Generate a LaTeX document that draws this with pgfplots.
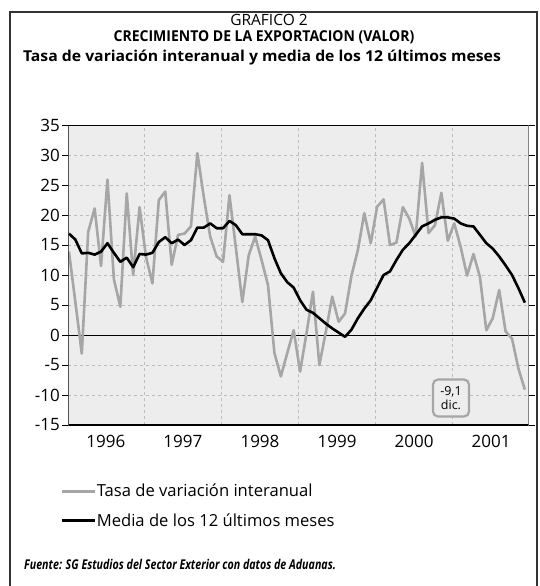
\documentclass[border=0pt]{standalone}
\usepackage{pgfplots}
\pgfplotsset{compat=1.18}
\usepackage{fontspec}
\setmainfont{Open Sans}
\definecolor{bg}{HTML}{EDEDED}
\definecolor{gridc}{HTML}{BDBDBD}
\definecolor{grayline}{HTML}{A6A6A6}
\definecolor{framec}{HTML}{333333}
\begin{document}
\begin{tikzpicture}[x=1pt,y=1pt]
\path (0pt,0pt) rectangle (540pt,-586pt);
\node[anchor=base, inner sep=0pt, font=\fontsize{15.5}{17}\selectfont] at (269pt,-26pt) {GRAFICO 2};
\node[anchor=base, inner sep=0pt, font=\fontsize{15}{17}\selectfont\bfseries] at (264pt,-41.5pt) {\scalebox{0.934}[1]{CRECIMIENTO DE LA EXPORTACION (VALOR)}};
\node[anchor=base, inner sep=0pt, font=\fontsize{15}{17}\selectfont\bfseries] at (262pt,-61.5pt) {\scalebox{1.05}[1]{Tasa de variación interanual y media de los 12 últimos meses}};
\node[anchor=west, inner sep=0pt, font=\fontsize{13.5}{15}\selectfont\bfseries\itshape] at (24pt,-564pt) {\scalebox{0.79}[1]{Fuente: SG Estudios del Sector Exterior con datos de Aduanas.}};
\begin{axis}[
  at={(68.3pt,-425pt)}, anchor=south west, scale only axis,
  width=460.4pt, height=300pt,
  xmin=-0.1, xmax=71.6, ymin=-15, ymax=35,
  axis background/.style={fill=bg},
  axis line style={draw=none},
  ytick={-15,-10,...,35},
  ymajorgrids, grid style={gridc, dashed, line width=0.8pt},
  xtick={5.75,17.75,29.75,41.75,53.75,65.75},
  xticklabels={1996,1997,1998,1999,2000,2001},
  x tick style={draw=none},
  extra x ticks={11.75,23.75,35.75,47.75,59.75},
  extra x tick labels={},
  extra x tick style={xmajorgrids, tick style={draw=black, line width=0.8pt}, major tick length=4pt},
  tick align=outside, major tick length=6pt,
  y tick style={black, line width=0.8pt},
  /pgf/number format/assume math mode=true,
  tick label style={font=\fontsize{17}{19}\selectfont},
  yticklabel style={xshift=1pt},
  xticklabel style={yshift=-0.5pt},
  legend style={at={(-0.018,-0.19)}, anchor=north west, draw=none, fill=none,
    font=\fontsize{16.6}{19}\selectfont, row sep=11pt, inner sep=0pt,
    nodes={inner xsep=1pt}},
  legend cell align=left,
  legend image code/.code={\draw[#1] (0pt,0pt) -- (33pt,0pt);},
]
\draw[black, line width=0.9pt] (axis cs:-0.1,0) -- (axis cs:71.6,0);
\addplot[grayline, line width=2.6pt, line join=round] coordinates {
(0,13.9)(1,5.5)(2,-3.1)(3,17.2)(4,21.1)(5,11.5)(6,25.9)(7,9.3)(8,4.7)(9,23.6)(10,10.0)(11,21.3)
(12,13.0)(13,8.6)(14,22.5)(15,23.9)(16,11.7)(17,16.7)(18,16.9)(19,18.1)(20,30.3)(21,23.0)(22,16.4)(23,13.1)
(24,12.2)(25,23.3)(26,14.5)(27,5.5)(28,13.3)(29,16.4)(30,12.5)(31,8.3)(32,-3.0)(33,-6.9)(34,-3.0)(35,0.8)
(36,-6.1)(37,0.3)(38,7.2)(39,-5.0)(40,0.5)(41,6.4)(42,2.2)(43,3.6)(44,9.9)(45,14.2)(46,20.3)(47,15.3)
(48,21.4)(49,22.6)(50,15.0)(51,15.4)(52,21.3)(53,19.4)(54,16.4)(55,28.7)(56,17.0)(57,18.3)(58,23.7)(59,15.7)
(60,18.6)(61,14.7)(62,9.9)(63,13.5)(64,9.7)(65,0.8)(66,2.8)(67,7.5)(68,0.6)(69,-0.6)(70,-5.6)(71,-9.1)
};
\addlegendentry{Tasa de variación interanual}
\addplot[black, line width=2.6pt, line join=round] coordinates {
(0,16.9)(1,15.9)(2,13.6)(3,13.7)(4,13.4)(5,13.9)(6,15.3)(7,13.7)(8,12.2)(9,12.9)(10,11.3)(11,13.5)
(12,13.4)(13,13.7)(14,15.5)(15,16.3)(16,15.3)(17,15.9)(18,15.0)(19,15.8)(20,17.9)(21,17.9)(22,18.6)(23,17.8)
(24,17.8)(25,19.0)(26,18.3)(27,16.8)(28,16.8)(29,16.8)(30,16.6)(31,15.8)(32,12.8)(33,10.3)(34,8.8)(35,7.9)
(36,5.8)(37,4.2)(38,3.7)(39,2.8)(40,1.9)(41,1.1)(42,0.4)(43,-0.3)(44,0.9)(45,2.8)(46,4.4)(47,5.8)
(48,7.9)(49,10.0)(50,10.6)(51,12.5)(52,14.2)(53,15.3)(54,16.7)(55,18.1)(56,18.6)(57,19.2)(58,19.6)(59,19.6)
(60,19.4)(61,18.6)(62,18.2)(63,18.1)(64,16.7)(65,15.3)(66,14.4)(67,13.1)(68,11.6)(69,10.0)(70,7.8)(71,5.4)
};
\addlegendentry{Media de los 12 últimos meses}
\node[draw=grayline, line width=2.2pt, rounded corners=5pt, fill=bg, minimum width=36pt, minimum height=37pt,
  align=center, inner sep=1pt, font=\fontsize{12.5}{14.3}\selectfont] at (axis cs:59.5,-10.5) {-9,1\\dic.};
\draw[black, line width=2pt] (rel axis cs:0,1) -- (rel axis cs:0,0) -- (rel axis cs:1,0);
\draw[black, line width=1.2pt] (rel axis cs:0,1) -- (rel axis cs:1,1);
\draw[black!70, line width=0.8pt] (rel axis cs:1,0) -- (rel axis cs:1,1);
\end{axis}
\fill[framec] (9.2pt,-586pt) rectangle (10.8pt,-11.2pt);
\fill[framec] (9.2pt,-12.8pt) rectangle (537.8pt,-11.2pt);
\fill[framec] (536.2pt,-586pt) rectangle (537.8pt,-11.2pt);
\end{tikzpicture}
\end{document}
